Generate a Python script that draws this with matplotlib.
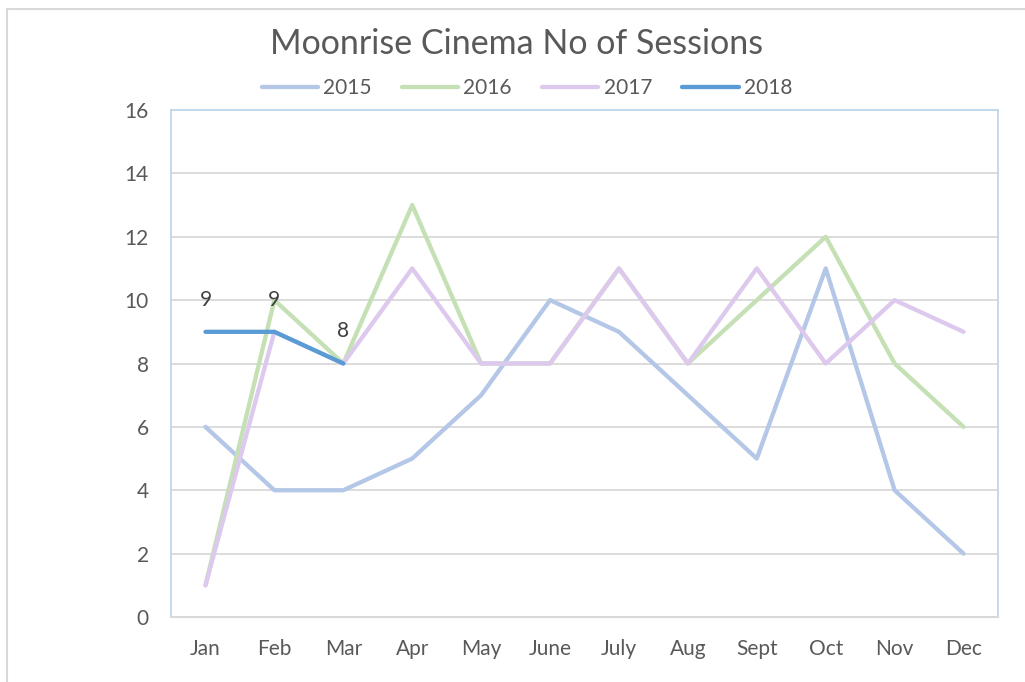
import matplotlib.pyplot as plt
from matplotlib.patches import Rectangle

plt.rcParams['font.family'] = ['Lato', 'DejaVu Sans']

months = ["Jan", "Feb", "Mar", "Apr", "May", "June", "July", "Aug", "Sept", "Oct", "Nov", "Dec"]
s2015 = [6, 4, 4, 5, 7, 10, 9, 7, 5, 11, 4, 2]
s2016 = [1, 10, 8, 13, 8, 8, 11, 8, 10, 12, 8, 6]
s2017 = [1, 9, 8, 11, 8, 8, 11, 8, 11, 8, 10, 9]
s2018 = [9, 9, 8]
yticks = [0, 2, 4, 6, 8, 10, 12, 14, 16]

W, H = 1025, 682
fig = plt.figure(figsize=(W / 100, H / 100), dpi=100)
ax = fig.add_axes([171 / W, 1 - 617 / H, (998 - 171) / W, (617 - 110) / H])

# outer chart border
fig.patches.append(Rectangle((7 / W, -0.1), 1.2, 1 - 9 / H + 0.1, transform=fig.transFigure,
                             fill=False, edgecolor="#D9D9D9", lw=1.5))

x = list(range(len(months)))
lw = 3.1
ax.plot(x, s2015, color="#B4C7E7", lw=lw, solid_capstyle="round", label="2015", zorder=3)
ax.plot(x, s2016, color="#C5E0B4", lw=lw, solid_capstyle="round", label="2016", zorder=4)
ax.plot(x, s2017, color="#DDC9EE", lw=lw, solid_capstyle="round", label="2017", zorder=5)
ax.plot(x[:len(s2018)], s2018, color="#5B9BD5", lw=lw, solid_capstyle="round", label="2018", zorder=6)

for i, v in enumerate(s2018):
    ax.annotate(str(v), (i, v), xytext=(0, 16), textcoords="offset points",
                ha="center", va="bottom", fontsize=15, color="#404040", zorder=7)

ax.set_xlim(-0.5, 11.5)
ax.set_ylim(0, 16)
ax.set_xticks(x)
ax.set_xticklabels(months)
ax.set_yticks(yticks)
ax.tick_params(axis="x", length=0, pad=16, labelsize=15, labelcolor="#595959")
ax.tick_params(axis="y", length=0, pad=16, labelsize=15, labelcolor="#595959")
ax.grid(axis="y", color="#D9D9D9", lw=1.3)
ax.set_axisbelow(True)
for side in ["left", "right", "top"]:
    ax.spines[side].set_color("#BDD7EE")
    ax.spines[side].set_linewidth(1.3)
ax.spines["bottom"].set_color("#D9D9D9")
ax.spines["bottom"].set_linewidth(1.5)

fig.text(517 / W, 1 - 44 / H, "Moonrise Cinema No of Sessions", ha="center", va="center",
         fontsize=24.5, color="#595959")

fig.legend(loc="center", bbox_to_anchor=(527 / W, 1 - 88 / H), ncol=4, frameon=False,
           fontsize=15, labelcolor="#595959", handlelength=2.7, handletextpad=0.25,
           columnspacing=1.45)

fig.savefig("out.png", dpi=100)
